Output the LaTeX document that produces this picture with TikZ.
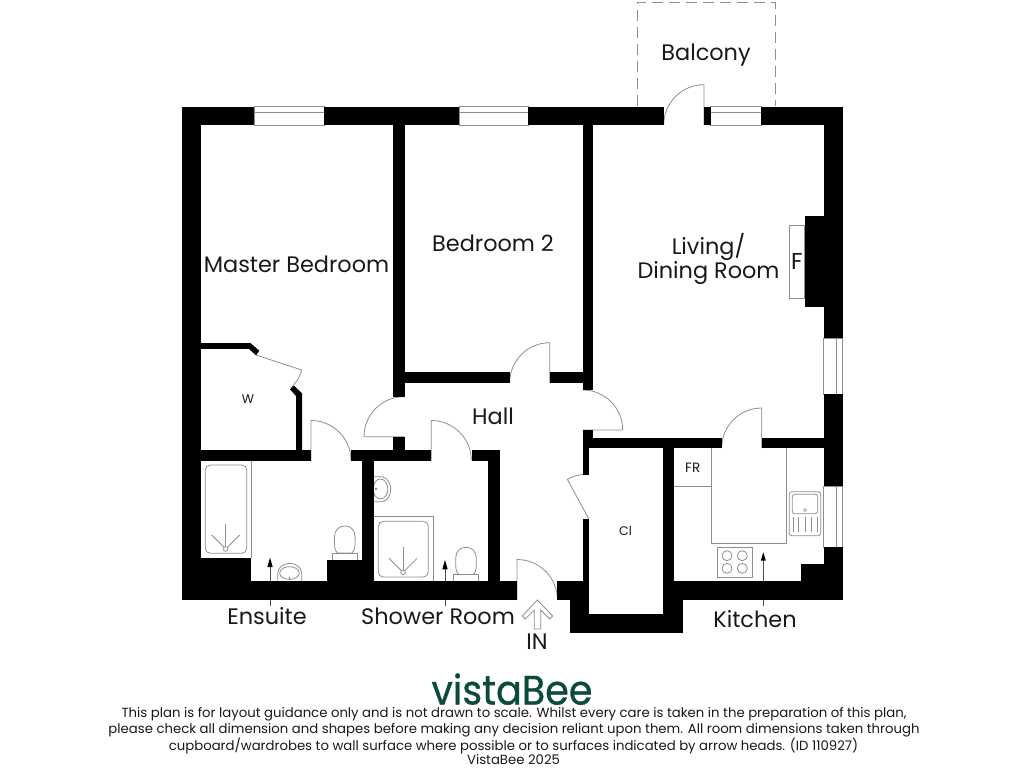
\documentclass[tikz,border=0pt]{standalone}
\usepackage{fontspec}
\setmainfont{Poppins}
\newfontfamily\logofont[FakeBold=0.7]{Poppins}
\definecolor{fixture}{HTML}{8E8E8E}
\definecolor{logogreen}{HTML}{0C4A3C}
\newcommand{\wallbox}[4]{\fill[black] (#1,#2) rectangle (#3,#4);}
\newcommand{\toiletat}[3]{%
  \draw[fix] ({#1-7},#3) .. controls ({#1-10.3},{#3-2}) and ({#1-10.3},{#3-6}) .. ({#1-10.3},{#2+11})
    .. controls ({#1-10.3},{#2+4}) and ({#1-6},#2) .. (#1,#2)
    .. controls ({#1+6},#2) and ({#1+10.3},{#2+4}) .. ({#1+10.3},{#2+11})
    .. controls ({#1+10.3},{#3-6}) and ({#1+10.3},{#3-2}) .. ({#1+7},#3) -- cycle;}
\newcommand{\showerrose}[3]{%
  \draw[fix] (#1,#2) circle[radius=2.3pt];
  \draw[fix] (#1,{#2-2.3}) -- (#1,{#2-25});
  \draw[fix] ({#1-1.8},{#2-1.8}) -- ({#1-14},{#2-14});
  \draw[fix] ({#1+1.8},{#2-1.8}) -- ({#1+14},{#2-14});}
\tikzset{
  fix/.style={draw=fixture,line width=0.8pt},
  doorline/.style={draw=fixture,line width=0.8pt},
  leader/.style={draw=black!70,line width=0.7pt},
  tiphead/.style={fill=black},
  room/.style={font=\fontsize{22.4}{25}\selectfont,text=black!90,inner sep=0pt,align=center},
  small/.style={font=\fontsize{12.5}{14}\selectfont,text=black!90,inner sep=0pt},
  legal/.style={font=\fontsize{13.25}{15}\selectfont,text=black!90,inner sep=0pt},
}
\begin{document}
\begin{tikzpicture}[x=1pt,y=1pt,yscale=-1]
\useasboundingbox (0,0) rectangle (1024,768);
\fill[white] (0,0) rectangle (1024,768);

% balcony
\draw[draw=fixture,line width=0.9pt,dash pattern=on 11pt off 6pt] (637.3,106) -- (637.3,2) -- (775,2) -- (775,106);

% doors
\draw[doorline] (311,460.5) -- (311,420.5) arc[start angle=-90,end angle=0,radius=40pt];
\draw[doorline] (431.3,460.5) -- (431.3,420.5) arc[start angle=-90,end angle=0,radius=40pt];
\draw[doorline] (404,436.7) -- (364,436.7) arc[start angle=180,end angle=270,radius=40pt];
\draw[doorline] (549.7,382.7) -- (549.7,342.7) arc[start angle=270,end angle=180,radius=40pt];
\draw[doorline] (582.7,430) -- (622.7,430) arc[start angle=0,end angle=-90,radius=40pt];
\draw[doorline] (761.7,448) -- (761.7,408) arc[start angle=270,end angle=180,radius=40pt];
\draw[doorline] (588.7,518.7) -- (567.3,479.3) arc[start angle=241.5,end angle=270,radius=44.8pt];
\draw[doorline] (517,600) -- (517,559.5) arc[start angle=-90,end angle=0,radius=40.5pt];
\draw[doorline] (704,125) -- (704,84.7) arc[start angle=270,end angle=180,radius=40.3pt];
\draw[doorline] (256,355) -- (301.7,370) .. controls (299,380) and (294,384) .. (291,388);

% windows
\draw[fix] (254,106.5) rectangle (324,125) (254,112.5) -- (324,112.5);
\draw[fix] (459,106.5) rectangle (528,125) (459,112.5) -- (528,112.5);
\draw[fix] (710.7,106.5) rectangle (761,125) (710.7,112.5) -- (761,112.5);
\draw[fix] (823.7,338.3) rectangle (842,394) (836,338.3) -- (836,394);
\draw[fix] (823.7,486) rectangle (842,547.3) (836,486) -- (836,547.3);

% fireplace
\draw[fix] (789.3,225) rectangle (804.7,298.3);

% ensuite fixtures
\draw[fix] (251.2,461) -- (251.2,558);
\draw[fix,rounded corners=5pt] (205.3,465) rectangle (246.7,553.3);
\showerrose{225.7}{549}{}
\draw[fix] (277.7,581) -- (277.7,573) .. controls (278,567) and (284,563.3) .. (289.7,563.3) .. controls (295.5,563.3) and (301.5,567) .. (301.7,573) -- (301.7,581);
\draw[fix] (289.5,573) ellipse[x radius=9.8pt,y radius=6.3pt];
\draw[fix] (289.7,576.5) -- (289.7,579.5);
\draw[fix] (332.3,553.3) rectangle (357.3,560);
\toiletat{344.8}{526}{553}

% shower room fixtures
\draw[fix] (373.7,476.7) -- (382,476.7) .. controls (388,478) and (390.7,484) .. (390.7,489) .. controls (390.7,495) and (388,500.5) .. (382,501.7) -- (373.7,501.7);
\draw[fix] (380.5,489) ellipse[x radius=7.3pt,y radius=10pt];
\draw[fix] (376,489) circle[radius=0.9pt];
\draw[fix] (373.7,516.7) -- (433,516.7) -- (433,581);
\draw[fix,rounded corners=5pt] (378.3,521.3) rectangle (428.3,577);
\showerrose{403}{572.3}{}
\draw[fix] (453.7,574.7) rectangle (478.7,581);
\toiletat{466}{547.3}{574.5}

% kitchen fixtures
\draw[fix] (674.3,486) -- (711.7,486);
\draw[fix] (711.7,448) -- (711.7,543.3) -- (786.7,543.3) -- (786.7,448);
\draw[fix] (717.3,547.3) rectangle (752.3,577);
\foreach \hx/\hy in {727/555.7,742.3/555.7,727/568.3,742.3/568.3}
  \draw[fix] (\hx,\hy) circle[radius=5pt];
\draw[fix,rounded corners=2.5pt] (789.3,491.7) rectangle (820.7,535.7);
\draw[fix,rounded corners=2.5pt] (792.3,494.3) rectangle (817.7,513.7);
\draw[fix,line width=0.6pt] (805,510) circle[radius=1.5pt];
\foreach \dx in {793,798.7,805.3,811.7,817.7}
  \draw[fix] (\dx,516.7) -- (\dx,532.3);

% walls
\wallbox{182}{106.5}{254}{125}
\wallbox{324}{106.5}{459}{125}
\wallbox{528}{106.5}{663.7}{125}
\wallbox{704}{106.5}{710.7}{125}
\wallbox{761}{106.5}{842.5}{125}
\wallbox{182}{106.5}{200.8}{600}
\wallbox{823.7}{106.5}{842.5}{338.3}
\wallbox{823.7}{394}{842.5}{486}
\wallbox{823.7}{547.3}{842.5}{600}
\wallbox{804.7}{215.7}{823.7}{307.3}
\wallbox{801.3}{564}{823.7}{581}
\wallbox{393.3}{125}{404.5}{396.5}
\wallbox{393.3}{436.7}{404.5}{450}
\wallbox{404}{372}{509.5}{382.7}
\wallbox{549.7}{372}{593}{382.7}
\wallbox{582.7}{125}{593.3}{390}
\wallbox{582.7}{430}{593.3}{448}
\wallbox{582.7}{437.7}{721.5}{448.3}
\wallbox{761.7}{437.7}{824}{448.3}
\wallbox{582.7}{437.7}{588.7}{475}
\wallbox{582.7}{518.7}{588.7}{600}
\wallbox{557.3}{581}{588.7}{600}
\wallbox{570}{600}{588.7}{633.3}
\wallbox{570}{614}{682.7}{633.3}
\wallbox{663}{448}{674.3}{600}
\wallbox{663}{581}{842.5}{600}
\wallbox{663}{600}{682.7}{633.3}
\wallbox{201}{342.7}{250}{348.7}
\fill[black] (250,342.7) -- (259.3,350.7) -- (256,355.3) -- (248.7,348.7) -- cycle;
\fill[black] (290,389.3) -- (294,385.7) -- (302,393.3) -- (302,450) -- (296,450) -- (296,396) -- cycle;
\wallbox{201}{450}{311}{461.3}
\wallbox{351}{450}{431.3}{461.3}
\wallbox{471.7}{450}{499.7}{461.3}
\wallbox{488.3}{450}{499.7}{581}
\wallbox{362.3}{450}{373.7}{581}
\wallbox{182}{581}{517}{600}
\wallbox{201}{557.7}{251}{581}
\wallbox{326.7}{560}{362.3}{581}

% labels
\node[room] (balcony) at (706,55) {Balcony};
\node[room] (master) at (296.5,264) {Master Bedroom};
\node[room] (bed2) at (493,243) {Bedroom 2};
\node[room] (living) at (708.5,258.5) {Living/\\[-1pt]Dining Room};
\node[room] (hall) at (493,416) {Hall};
\node[room,font=\fontsize{23}{25}\selectfont] (fire) at (796.8,261.5) {F};
\node[small] (wardrobe) at (248,399) {W};
\node[small] (closet) at (625.5,531) {Cl};
\node[small,font=\fontsize{13.5}{15}\selectfont] (fridge) at (692.7,467.3) {FR};
\node[room] (ensuite) at (267,616) {Ensuite};
\node[room] (shower) at (438,616) {Shower Room};
\node[room] (kitchen) at (755,619) {Kitchen};
\node[room] (in) at (537,642) {IN};

% measuring arrows
\draw[leader] (270,581) -- (270,566);
\draw[leader] (270,600) -- (270,606);
\fill[tiphead] (270,557.7) -- (272.7,567) -- (267.3,567) -- cycle;
\draw[leader] (445,581) -- (445,568);
\draw[leader] (445,600) -- (445,606);
\fill[tiphead] (445,560) -- (447.7,569.3) -- (442.3,569.3) -- cycle;
\draw[leader] (763.3,581) -- (763.3,559);
\draw[leader] (763.3,600) -- (763.3,606);
\fill[tiphead] (763.3,552.3) -- (765.8,560.5) -- (760.8,560.5) -- cycle;

% entrance arrow
\draw[fix] (537.3,600) -- (552.7,616) -- (549.7,619) -- (540.7,610) -- (540.7,629) -- (534.3,629) -- (534.3,610) -- (525.3,619) -- (522.3,616) -- cycle;

% footer
\node[inner sep=0pt,text=logogreen,font=\fontsize{41}{44}\logofont,anchor=base,xscale=0.93,yscale=-1,transform shape] (logo) at (512,704.5) {vistaBee};
\node[legal] (l1) at (514,714.5) {This plan is for layout guidance only and is not drawn to scale. Whilst every care is taken in the preparation of this plan,};
\node[legal] (l2) at (514,730) {please check all dimension and shapes before making any decision reliant upon them. All room dimensions taken through};
\node[legal] (l3) at (513.5,745.5) {cupboard/wardrobes to wall surface where possible or to surfaces indicated by arrow heads. (ID 110927)};
\node[legal] (l4) at (513.5,759.5) {VistaBee 2025};
\end{tikzpicture}
\end{document}
